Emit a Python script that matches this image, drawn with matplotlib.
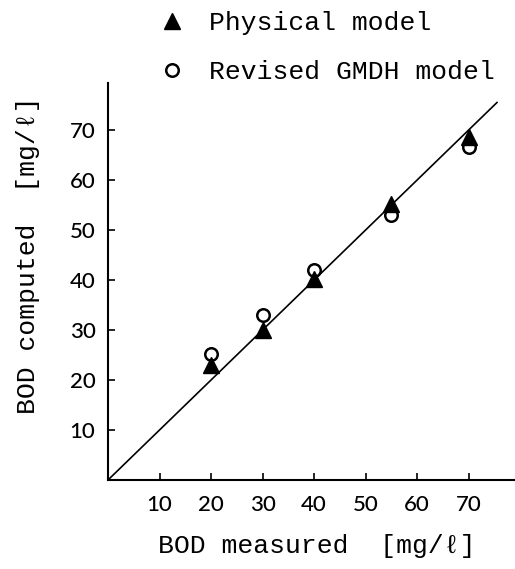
import matplotlib
matplotlib.use("Agg")
import matplotlib.pyplot as plt

# measured vs computed BOD [mg/l]
bod_measured = [20, 30, 40, 55, 70]
physical_model = [23, 30, 40.3, 55.2, 68.7]
gmdh_model = [25.2, 33, 42.1, 53, 66.6]
ticks = [10, 20, 30, 40, 50, 60, 70]
ref_line = [0, 75.5]

mono = ['Liberation Mono', 'DejaVu Sans Mono']

fig = plt.figure(figsize=(5.15, 5.69), dpi=100)
ax = fig.add_axes([0.2097, 0.1564, 0.7903, 0.6977])

ax.plot(ref_line, ref_line, color='black', lw=1.2, zorder=1)
ax.plot(bod_measured, gmdh_model, 'o', ms=9, mfc='none', mec='black', mew=1.8,
        zorder=2, label='Revised GMDH model')
ax.plot(bod_measured, physical_model, '^', ms=11, color='black', zorder=3,
        label='Physical model')

ax.set_xlim(0, 79)
ax.set_ylim(0, 79.4)
ax.set_xticks(ticks)
ax.set_yticks(ticks)
for s in ['top', 'right']:
    ax.spines[s].set_visible(False)
for s in ['left', 'bottom']:
    ax.spines[s].set_linewidth(1.5)
ax.tick_params(direction='in', length=5, width=1.2, labelsize=16)
ax.tick_params(axis='x', pad=11)
ax.tick_params(axis='y', pad=9)
for lab in ax.get_xticklabels() + ax.get_yticklabels():
    lab.set_family('Lato')
    lab.set_weight('medium')

ax.set_xlabel('BOD measured  [mg/ℓ]', family=mono, fontsize=19)
ax.set_ylabel('BOD computed  [mg/ℓ]', family=mono, fontsize=19)
ax.xaxis.set_label_coords(0.514, -0.135)
ax.yaxis.set_label_coords(-0.167, 0.567)

h, l = ax.get_legend_handles_labels()
fig.legend(h[::-1], l[::-1], loc='upper left', bbox_to_anchor=(0.263, 1.022),
           frameon=False, prop={'family': mono, 'size': 19},
           handlelength=1.0, handletextpad=0.9, labelspacing=0.95)

fig.savefig('out.png', dpi=100)
